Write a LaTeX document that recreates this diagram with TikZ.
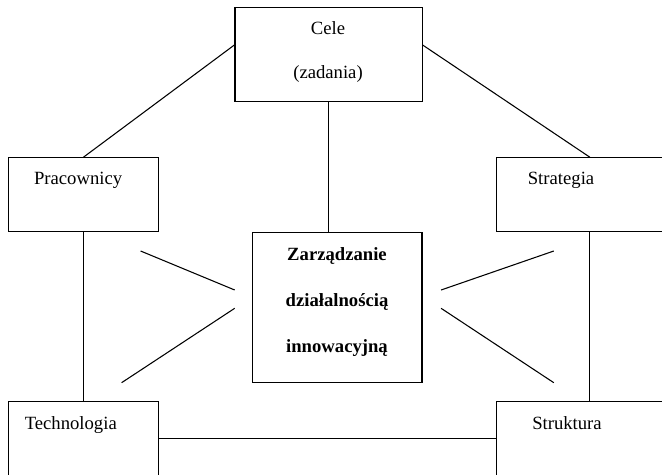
\documentclass[tikz,border=0pt]{standalone}
\usepackage{fontspec}
\setmainfont{Liberation Serif}
\usetikzlibrary{calc}

\begin{document}
\begin{tikzpicture}[x=0.75pt, y=-0.75pt,
    box/.style={draw, line width=0.8pt, inner sep=0pt},
    txt/.style={inner sep=0pt, font=\fontsize{14pt}{17pt}\selectfont},
    link/.style={line width=0.8pt}]
    % Frame (right and bottom boxes run past the edge)
    \useasboundingbox (0,0) rectangle (662,475);
    \clip (0,0) rectangle (662,475);

    % Boxes
    \node[box, minimum width=140.3pt, minimum height=70.8pt] (cele) at (328.5,54.5) {};
    \node[box, minimum width=112.7pt, minimum height=55.5pt] (prac) at (83.5,194.7) {};
    \node[box, minimum width=140.4pt, minimum height=55.5pt] (strat) at (589.8,194.7) {};
    \node[box, minimum width=127.2pt, minimum height=112.5pt] (zarz) at (337.2,307.7) {};
    \node[box, minimum width=112.7pt, minimum height=55.5pt] (tech) at (83.5,438.7) {};
    \node[box, minimum width=140.4pt, minimum height=55.5pt] (strukt) at (589.8,438.7) {};

    % Texts
    \node[txt, align=center, font=\fontsize{14pt}{32.8pt}\selectfont] (celeT) at (328,52) {Cele\\(zadania)};
    \node[txt, anchor=base west] (pracT) at (33.8,184) {Pracownicy};
    \node[txt, anchor=base west] (stratT) at (527.6,184) {Strategia};
    \node[txt, anchor=base west] (techT) at (24.5,429) {Technologia};
    \node[txt, anchor=base west] (struktT) at (532,429) {Struktura};
    \node[txt, align=center, font=\bfseries\fontsize{14pt}{34.5pt}\selectfont] (zarzT) at (337,302.5)
        {Zarządzanie\\działalnością\\innowacyjną};

    % Frame links
    \draw[link] ($(cele.north west)!0.4!(cele.south west)$) -- (prac.north);
    \draw[link] ($(cele.north east)!0.4!(cele.south east)$) -- (strat.north);
    \draw[link] (cele.south) -- (cele.south |- zarz.north);
    \draw[link] (prac.south) -- (tech.north);
    \draw[link] (strat.south) -- (strukt.north);
    \draw[link] (tech.east) -- (strukt.west);

    % Short strokes towards the centre
    \coordinate (lu1) at (140.6,251);   \coordinate (lu2) at (234.7,290);
    \coordinate (ld1) at (121.6,382.7); \coordinate (ld2) at (234.7,308.3);
    \coordinate (ru1) at (553.8,251);   \coordinate (ru2) at (441.1,290);
    \coordinate (rd1) at (553.8,382.7); \coordinate (rd2) at (441.1,308.3);
    \draw[link] (lu1) -- (lu2);
    \draw[link] (ld1) -- (ld2);
    \draw[link] (ru1) -- (ru2);
    \draw[link] (rd1) -- (rd2);
\end{tikzpicture}
\end{document}
